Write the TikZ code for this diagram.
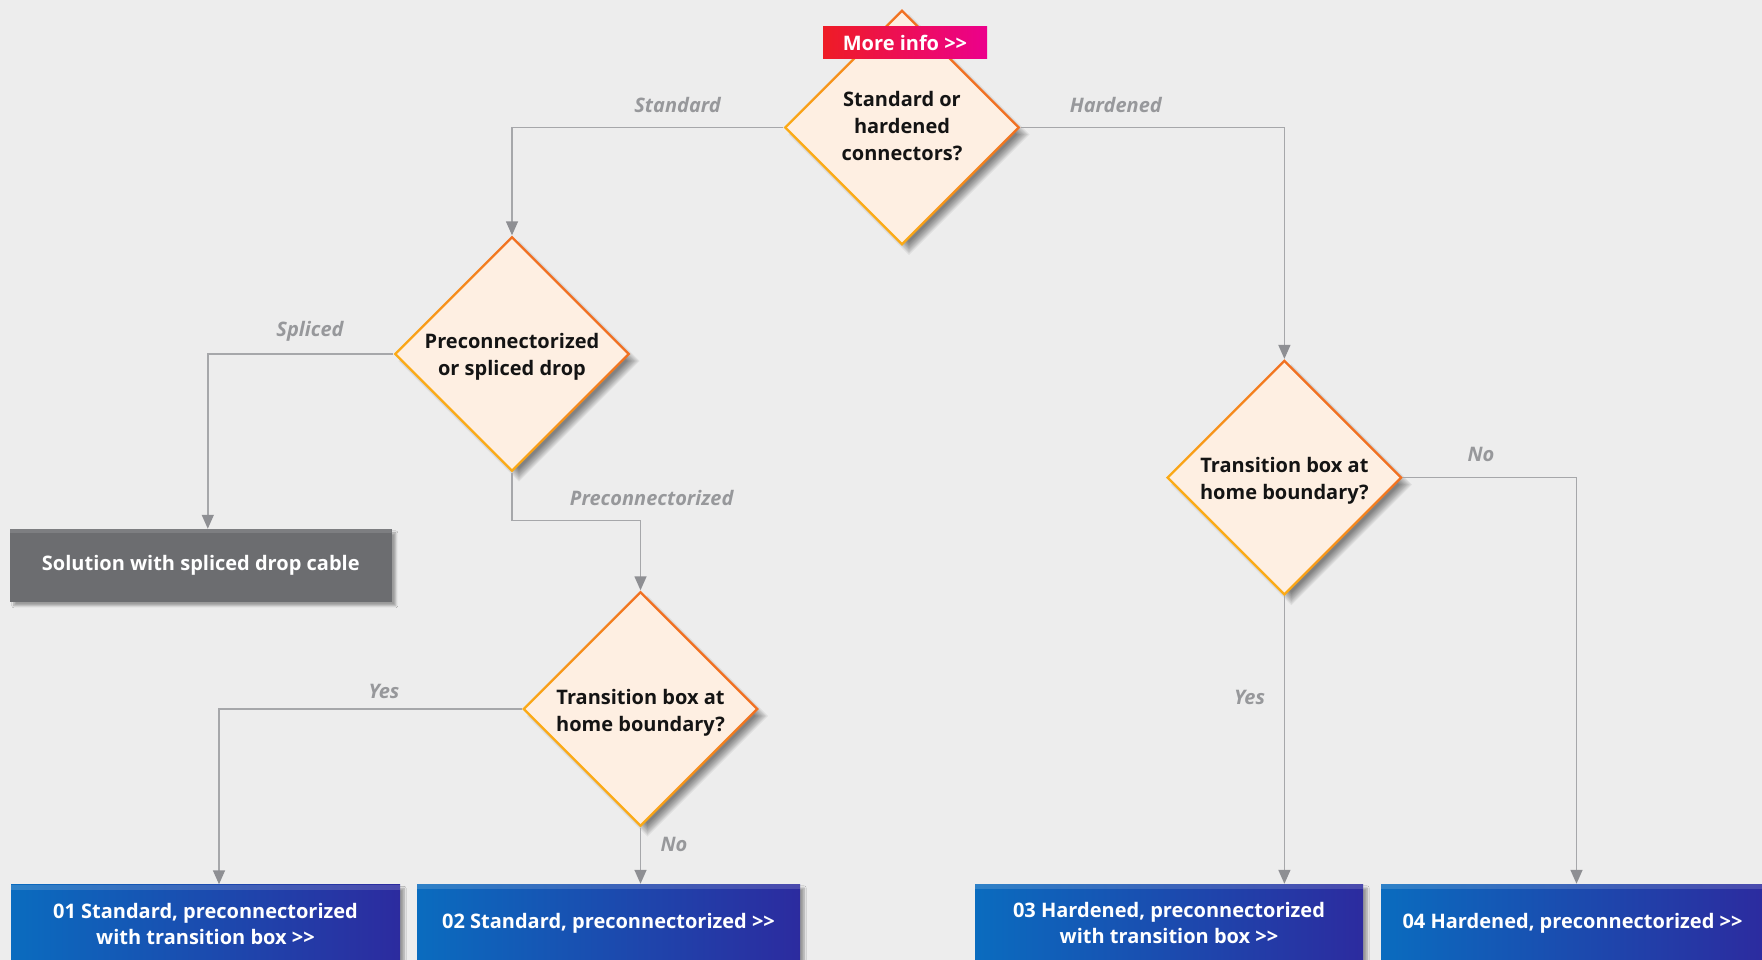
\documentclass[tikz,border=0pt]{standalone}
\usepackage{fontspec}
\setmainfont{Open Sans}
\usetikzlibrary{shapes.geometric,arrows.meta,shadows.blur}
\definecolor{bg}{HTML}{EDEDED}
\definecolor{peach}{HTML}{FEEFE2}
\definecolor{bordA}{HTML}{EF6424}
\definecolor{bordB}{HTML}{FDB714}
\definecolor{linegray}{HTML}{A6A7AA}
\definecolor{tipgray}{HTML}{8E8F93}
\definecolor{lblgray}{HTML}{97989B}
\definecolor{blueL}{HTML}{0A6CBF}
\definecolor{blueR}{HTML}{2C2B9F}
\definecolor{boxgray}{HTML}{6C6D70}
\definecolor{btnL}{HTML}{EE1C25}
\definecolor{btnR}{HTML}{EC008C}
\newcommand{\gtgt}{>{}>}
% soft shadow for a diamond centred at (#1,#2)
\newcommand{\mydshadow}[2]{%
  \foreach \s in {0,...,9}{%
    \pgfmathsetmacro{\rr}{108+\s*1.4}%
    \fill[black,opacity=0.055] ({#1+7},{#2+7-\rr}) -- ({#1+7+\rr},{#2+7}) -- ({#1+7},{#2+7+\rr}) -- ({#1+7-\rr},{#2+7}) -- cycle;
  }}
\tikzset{
  dshape/.style={diamond, aspect=1, inner sep=0pt, minimum width=237pt, minimum height=237pt,
    top color=bordA, bottom color=bordB, shading angle=-45},
  dinner/.style={diamond, aspect=1, inner sep=0pt, minimum width=230pt, minimum height=230pt, fill=peach},
  dtext/.style={align=center, text=black!92, font=\bfseries\fontsize{20}{27}\selectfont},
  bluebox/.style={rectangle, inner sep=0pt, left color=blueL, right color=blueR, text=white, align=center,
    font=\bfseries\fontsize{20}{26}\selectfont,
    blur shadow={shadow xshift=4pt, shadow yshift=-4pt, shadow blur steps=6, shadow opacity=35},
    path picture={\fill[white,opacity=0.15] (path picture bounding box.north west) rectangle ([yshift=-5pt]path picture bounding box.north east);}},
  graybox/.style={rectangle, inner sep=0pt, fill=boxgray, text=white, align=center,
    font=\bfseries\fontsize{20}{26}\selectfont,
    blur shadow={shadow xshift=4pt, shadow yshift=-4pt, shadow blur steps=6, shadow opacity=35},
    path picture={\fill[white,opacity=0.12] (path picture bounding box.north west) rectangle ([yshift=-4pt]path picture bounding box.north east);}},
  conn/.style={draw=linegray, line width=1.5pt, -{Triangle[width=12pt,length=14pt,fill=tipgray,color=tipgray]}},
  lbl/.style={text=lblgray, font=\bfseries\itshape\fontsize{20}{22}\selectfont},
}
\begin{document}
\begin{tikzpicture}[x=1pt,y=-1pt]
\path[use as bounding box, fill=bg] (0,0) rectangle (1762,960);
\clip (0,0) rectangle (1762,960);

% shadows
\mydshadow{902}{127.5}
\mydshadow{512}{354}
\mydshadow{640.5}{709}
\mydshadow{1284.4}{477.6}

% decisions
\node[dshape] (d1) at (902,127.5) {};
\node[dinner] (d1i) at (d1.center) {};
\node[dtext] (d1t) at (902,126.5) {Standard or\\hardened\\connectors?};

\node[dshape] (d2) at (512,354) {};
\node[dinner] (d2i) at (d2.center) {};
\node[dtext] (d2t) at (512,357) {Preconnectorized\\or spliced drop};

\node[dshape] (d3) at (640.5,709) {};
\node[dinner] (d3i) at (d3.center) {};
\node[dtext] (d3t) at (640.5,713) {Transition box at\\home boundary?};

\node[dshape] (d4) at (1284.4,477.6) {};
\node[dinner] (d4i) at (d4.center) {};
\node[dtext] (d4t) at (1284.4,481) {Transition box at\\home boundary?};

% button
\node[rectangle, inner sep=0pt, minimum width=164pt, minimum height=32pt, left color=btnL, right color=btnR,
  text=white, font=\bfseries\fontsize{20}{24}\selectfont] (more) at (905,43) {More info \gtgt};

% outcome boxes
\node[graybox, minimum width=381.7pt, minimum height=72.7pt] (gbox) at (200.8,565.3) {Solution with spliced drop cable};
\node[bluebox, minimum width=389pt, minimum height=78pt] (b1) at (205.5,923.5) {01 Standard, preconnectorized\\with transition box \gtgt};
\node[bluebox, minimum width=383pt, minimum height=78pt] (b2) at (608.5,923) {02 Standard, preconnectorized \gtgt};
\node[bluebox, minimum width=388pt, minimum height=78pt] (b3) at (1169,923) {03 Hardened, preconnectorized\\with transition box \gtgt};
\node[bluebox, minimum width=383pt, minimum height=78pt] (b4) at (1572.5,923) {04 Hardened, preconnectorized \gtgt};

% connectors
\draw[conn] (d1.west) -| (d2.north);
\draw[conn] (d1.east) -| (d4.north);
\draw[conn] (d2.west) -| ([xshift=7pt]gbox.north);
\draw[conn] (d2.south) -- ++(0,48) -| (d3.north);
\draw[conn] (d3.west) -| ([xshift=13.5pt]b1.north);
\draw[conn] (d3.south) -- (d3.south |- b2.north);
\draw[conn] (d4.south) -- (d4.south |- b3.north);
\draw[conn] (d4.east) -| ([xshift=4pt]b4.north);

% labels
\node[lbl] (l1) at (677.6,105) {Standard};
\node[lbl] (l2) at (1115.8,105) {Hardened};
\node[lbl] (l3) at (310,331) {Spliced};
\node[lbl] (l4) at (651.7,498) {Preconnectorized};
\node[lbl] (l5) at (384,691.5) {Yes};
\node[lbl] (l6) at (674,844.5) {No};
\node[lbl] (l7) at (1481,454.5) {No};
\node[lbl] (l8) at (1249.6,697) {Yes};
\end{tikzpicture}
\end{document}
